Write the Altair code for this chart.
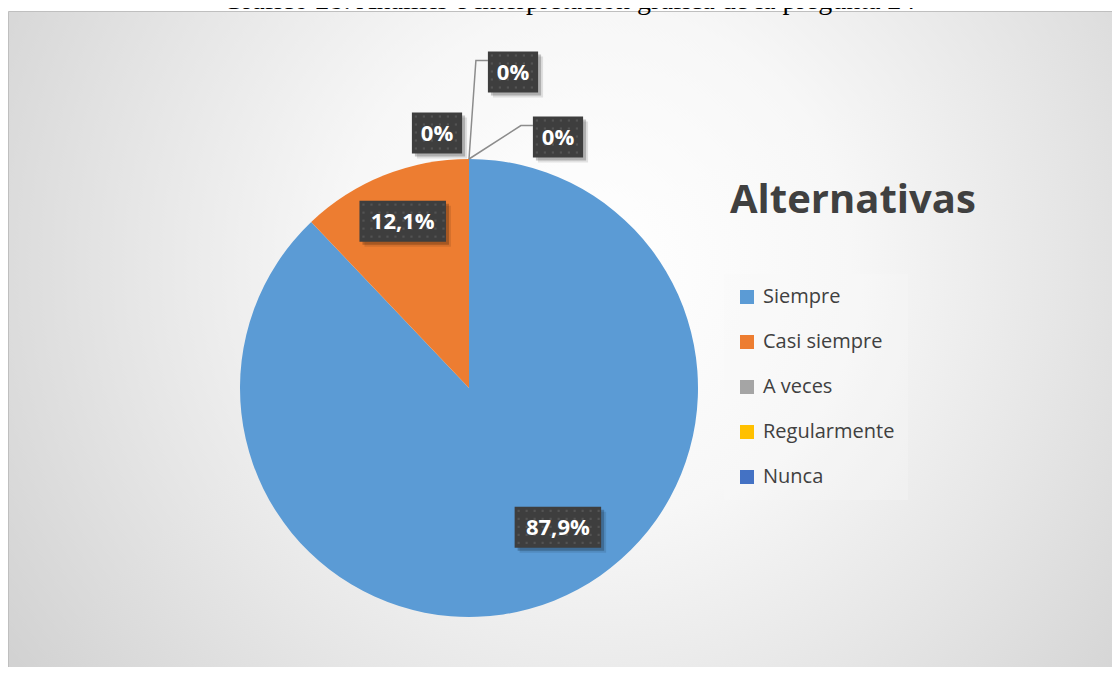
import math
import altair as alt
import pandas as pd

# ---------------- data ----------------
categorias = ["Siempre", "Casi siempre", "A veces", "Regularmente", "Nunca"]
porcentajes = [87.9, 12.1, 0.0, 0.0, 0.0]
etiquetas = ["87,9%", "12,1%", "0%", "0%", "0%"]
colores = ["#5B9BD5", "#ED7D31", "#A5A5A5", "#FFC000", "#4472C4"]

TITULO = "Gráfico 28: Análisis e interpretación gráfica de la pregunta 24"
LEYENDA = "Alternativas"

# ---------------- layout / style ----------------
W, H = 1104, 659
CX, CY, R = 461, 380, 229
LABEL_R = [0.74, 0.78, 1.0, 1.0, 1.0]          # radial fraction of label anchor
LABEL_NUDGE = [(26, -18), (0, -1), (-32, -26), (44, -87), (89, -22)]
LEADER = [False, False, False, True, True]
FS_LAB = 22
BOX_H = 41
DOT_STEP = 8

df = pd.DataFrame({"categoria": categorias, "valor": porcentajes,
                   "etiqueta": etiquetas, "orden": list(range(len(categorias)))})

# label anchors computed from the cumulative values (mid-angle of each slice)
total = sum(porcentajes)
rows, leader_rows, dot_rows = [], [], []
cum = 0.0
for i, (c, v, e) in enumerate(zip(categorias, porcentajes, etiquetas)):
    mid = (cum + v / 2) / total * 2 * math.pi
    cum += v
    r = LABEL_R[i] * R
    ax = CX + r * math.sin(mid)
    ay = CY - r * math.cos(mid)
    lx = ax + LABEL_NUDGE[i][0]
    ly = ay + LABEL_NUDGE[i][1]
    bw = 0.55 * FS_LAB * len(e) + 26
    x0, x1 = lx - bw / 2, lx + bw / 2
    y0, y1 = ly - BOX_H / 2, ly + BOX_H / 2
    rows.append({"id": i, "etiqueta": e, "lx": lx, "ly": ly,
                 "x0": x0, "x1": x1, "y0": y0, "y1": y1,
                 "sx0": x0 + 3, "sx1": x1 + 3, "sy0": y0 + 3, "sy1": y1 + 3,
                 "tx0": x0 + 5, "tx1": x1 + 5, "ty0": y0 + 5, "ty1": y1 + 5})
    # dotted texture of the label box
    yy = y0 + 4
    while yy < y1 - 2:
        xx = x0 + 4
        while xx < x1 - 2:
            dot_rows.append({"dx": xx, "dy": yy})
            xx += DOT_STEP
        yy += DOT_STEP
    if LEADER[i]:
        ex, ey = CX + R * math.sin(mid), CY - R * math.cos(mid)
        pts = [(ex, ey), (x0 - 12, y0 + 9), (x0, y0 + 9)]
        for k, (px, py) in enumerate(pts):
            leader_rows.append({"id": i, "k": k, "px": px, "py": py})

lab = pd.DataFrame(rows)
lead = pd.DataFrame(leader_rows)
dots = pd.DataFrame(dot_rows)

# ---------------- layers ----------------
bg = alt.Chart(alt.Data(values=[{}])).mark_rect(
    color=alt.RadialGradient(
        gradient="radial", x1=0.52, y1=0.42, r1=0, x2=0.52, y2=0.42, r2=0.75,
        stops=[alt.GradientStop(color="#ffffff", offset=0),
               alt.GradientStop(color="#f7f7f7", offset=0.3),
               alt.GradientStop(color="#e6e6e6", offset=0.55),
               alt.GradientStop(color="#c6c6c6", offset=1)]),
    stroke="#bfbfbf", strokeWidth=1,
).encode(x=alt.value(0.5), x2=alt.value(1130), y=alt.value(3.5), y2=alt.value(690))

title = alt.Chart(alt.Data(values=[{}])).mark_text(
    text=TITULO, font="Liberation Serif", fontSize=28, color="#000000",
    align="center", baseline="alphabetic",
).encode(x=alt.value(561), y=alt.value(1))

pie = alt.Chart(df).mark_arc(outerRadius=R).encode(
    theta=alt.Theta("valor:Q", stack=True),
    order=alt.Order("orden:Q"),
    color=alt.Color("categoria:N",
                    scale=alt.Scale(domain=categorias, range=colores),
                    legend=alt.Legend(
                        title=None, orient="none", legendX=716, legendY=266,
                        symbolType="square", symbolSize=196, symbolStrokeWidth=0,
                        symbolOpacity=1, labelFont="Open Sans", labelFontSize=20,
                        labelColor="#404040", labelOffset=6, rowPadding=25,
                        padding=13, fillColor="rgba(248,248,248,0.3)",
                        labelLimit=300)),
    x=alt.value(CX), y=alt.value(CY),
)

legend_title = alt.Chart(alt.Data(values=[{}])).mark_text(
    text=LEYENDA, font="Open Sans", fontWeight="bold", fontSize=40,
    color="#404040", align="left", baseline="alphabetic",
).encode(x=alt.value(722), y=alt.value(205))

leaders = alt.Chart(lead).mark_line(color="#8c8c8c", strokeWidth=1.5).encode(
    x=alt.X("px:Q", scale=None), y=alt.Y("py:Q", scale=None),
    detail="id:N", order="k:Q")

shadow2 = alt.Chart(lab).mark_rect(color="#000000", opacity=0.10).encode(
    x=alt.X("tx0:Q", scale=None), x2="tx1:Q",
    y=alt.Y("ty0:Q", scale=None), y2="ty1:Q")

shadow1 = alt.Chart(lab).mark_rect(color="#000000", opacity=0.22).encode(
    x=alt.X("sx0:Q", scale=None), x2="sx1:Q",
    y=alt.Y("sy0:Q", scale=None), y2="sy1:Q")

boxes = alt.Chart(lab).mark_rect(color="#3e3e3e").encode(
    x=alt.X("x0:Q", scale=None), x2="x1:Q",
    y=alt.Y("y0:Q", scale=None), y2="y1:Q")

texture = alt.Chart(dots).mark_square(size=5, color="#535353", opacity=1).encode(
    x=alt.X("dx:Q", scale=None), y=alt.Y("dy:Q", scale=None))

texts = alt.Chart(lab).mark_text(
    font="Open Sans", fontWeight="bold", fontSize=FS_LAB, color="#ffffff",
    align="center", baseline="middle", dy=1,
).encode(x=alt.X("lx:Q", scale=None), y=alt.Y("ly:Q", scale=None),
         text="etiqueta:N")

chart = alt.layer(bg, title, pie, legend_title, leaders, shadow2, shadow1,
                  boxes, texture, texts).properties(
    width=W, height=H, padding=0,
    autosize=alt.AutoSizeParams(type="none"),
    background="#ffffff",
).configure_view(stroke=None)

chart.save("out.html", embed_options={"renderer": "svg", "actions": False})
